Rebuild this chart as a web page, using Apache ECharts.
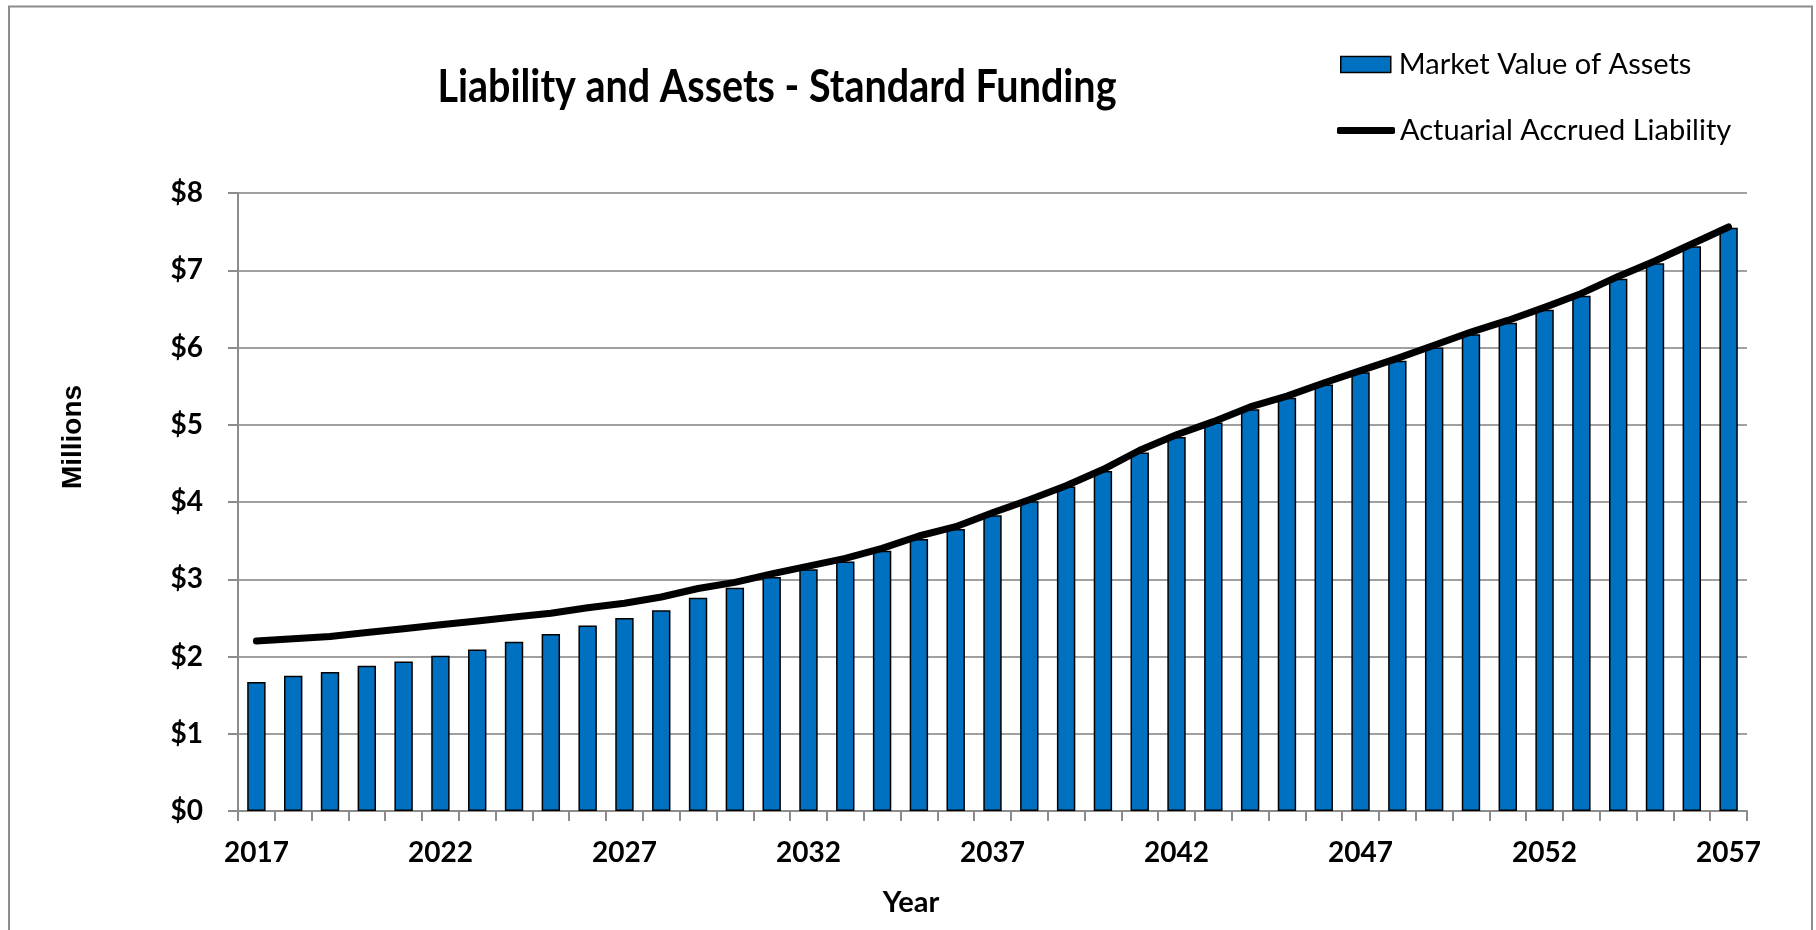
<!DOCTYPE html>
<html>
<head>
<meta charset="utf-8">
<script src="https://cdn.jsdelivr.net/npm/echarts@6/dist/echarts.min.js"></script>
<style>
html,body{margin:0;padding:0;background:#fff;}
#chart{width:1816px;height:930px;}
</style>
</head>
<body>
<div id="chart"></div>
<script>
const years = ['2017','2018','2019','2020','2021','2022','2023','2024','2025','2026','2027','2028','2029','2030','2031','2032','2033','2034','2035','2036','2037','2038','2039','2040','2041','2042','2043','2044','2045','2046','2047','2048','2049','2050','2051','2052','2053','2054','2055','2056','2057'];
const marketValueOfAssets = [1.67,1.75,1.80,1.88,1.935,2.01,2.09,2.19,2.29,2.40,2.50,2.60,2.76,2.89,3.03,3.13,3.23,3.37,3.52,3.65,3.83,4.01,4.20,4.40,4.64,4.84,5.03,5.20,5.35,5.52,5.68,5.83,6.00,6.17,6.32,6.49,6.67,6.89,7.09,7.31,7.55];
const actuarialAccruedLiability = [2.20,2.23,2.26,2.31,2.36,2.41,2.46,2.51,2.56,2.63,2.69,2.77,2.88,2.96,3.07,3.17,3.27,3.40,3.56,3.68,3.86,4.03,4.21,4.42,4.67,4.87,5.04,5.23,5.37,5.54,5.70,5.86,6.03,6.20,6.35,6.52,6.70,6.92,7.12,7.34,7.56];
const seriesNames = ['Market Value of Assets','Actuarial Accrued Liability'];
const titleText = 'Liability and Assets - Standard Funding';
const yAxisTitle = 'Millions';
const xAxisTitle = 'Year';

const FONT = 'Lato, "Open Sans", sans-serif';
const chart = echarts.init(document.getElementById('chart'), null, {renderer:'canvas'});
chart.setOption({
  animation:false,
  backgroundColor:'#ffffff',
  legend:[
    {
      left:1335, top:45, itemWidth:50, itemHeight:16, selectedMode:false,
      data:[{name:seriesNames[0], icon:'rect', itemStyle:{color:'#0070C0', borderColor:'#000', borderWidth:1.5}}],
      textStyle:{fontFamily:FONT, fontSize:29, color:'#000', padding:[0,0,0,3]}
    },
    {
      left:1332, top:111, itemWidth:58, itemHeight:7, selectedMode:false,
      data:[{name:seriesNames[1], icon:'roundRect', itemStyle:{color:'#000'}}],
      textStyle:{fontFamily:FONT, fontSize:29, color:'#000', padding:[0,0,0,0]}
    }
  ],
  grid:{left:238, right:69, top:193, bottom:119},
  xAxis:{
    type:'category', data:years, boundaryGap:true,
    axisLine:{lineStyle:{color:'#8c8c8c', width:2}},
    axisTick:{show:true, interval:0, alignWithLabel:false, length:10, lineStyle:{color:'#8c8c8c', width:2}},
    axisLabel:{interval:4, margin:28, fontFamily:FONT, fontWeight:'bold', fontSize:28, color:'#000'},
    splitLine:{show:false}
  },
  yAxis:{
    type:'value', min:0, max:8, interval:1,
    axisLine:{show:true, lineStyle:{color:'#8c8c8c', width:2}},
    axisTick:{show:true, length:10, lineStyle:{color:'#8c8c8c', width:2}},
    axisLabel:{formatter:'${value}', margin:35, fontFamily:FONT, fontWeight:'bold', fontSize:28, color:'#000'},
    splitLine:{show:true, lineStyle:{color:'#a0a0a0', width:2}}
  },
  series:[
    {
      name:seriesNames[0], type:'bar', data:marketValueOfAssets, barWidth:'50%',
      itemStyle:{color:'#0070C0', borderColor:'#000', borderWidth:1.5}, z:2
    },
    {
      name:seriesNames[1], type:'line', data:actuarialAccruedLiability, symbol:'none', smooth:false,
      lineStyle:{color:'#000', width:7, cap:'round', join:'round'}, z:3
    }
  ],
  graphic:[
    {type:'rect', shape:{x:9, y:6.5, width:1803, height:940}, style:{fill:'none', stroke:'#8c8c8c', lineWidth:2}, silent:true, z:-1},
    {type:'text', x:777, y:87, scaleY:1.15, style:{text:titleText, fontFamily:FONT, fontWeight:'bold', fontSize:39.5, fill:'#000', align:'center', verticalAlign:'middle'}},
    {type:'text', x:73, y:437, rotation:Math.PI/2, style:{text:yAxisTitle, fontFamily:'"Liberation Sans", Arial, sans-serif', fontWeight:'bold', fontSize:28, fill:'#000', align:'center', verticalAlign:'middle'}},
    {type:'text', x:911, y:903, style:{text:xAxisTitle, fontFamily:FONT, fontWeight:'bold', fontSize:29, fill:'#000', align:'center', verticalAlign:'middle'}}
  ]
});
</script>
</body>
</html>
